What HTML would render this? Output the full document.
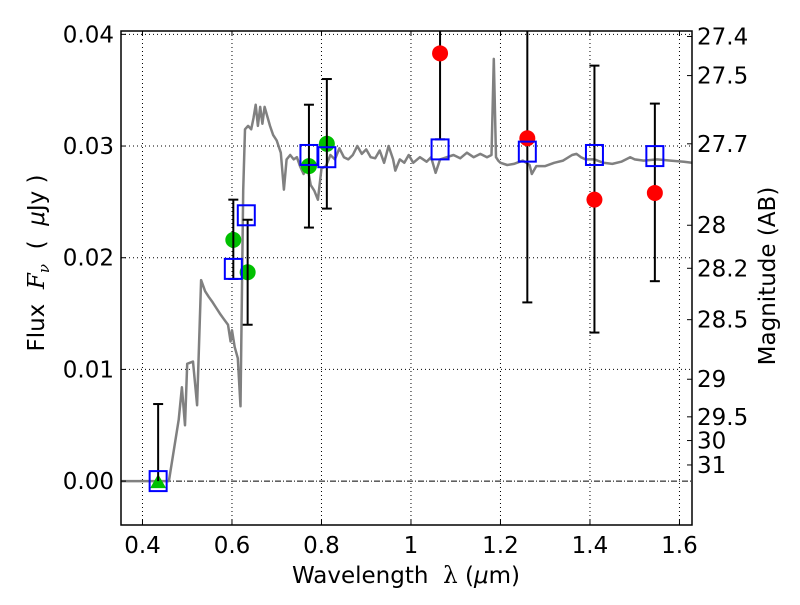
<!DOCTYPE html>
<html><head><meta charset="utf-8"><style>
body{margin:0;background:#fff}
svg text{font-family:"DejaVu Sans","Liberation Sans",sans-serif;fill:#000}
</style></head><body>
<svg id="chart" width="800" height="600" xmlns="http://www.w3.org/2000/svg"></svg>
<script>
const specLam=[0.352,0.459,0.481,0.488,0.495,0.5,0.513,0.522,0.531,0.54,0.548,0.557,0.565,0.573,0.582,0.591,0.597,0.6,0.606,0.613,0.619,0.625,0.629,0.636,0.643,0.648,0.653,0.658,0.663,0.668,0.673,0.68,0.685,0.692,0.7,0.709,0.716,0.722,0.73,0.738,0.745,0.752,0.76,0.768,0.776,0.784,0.792,0.8,0.81,0.82,0.83,0.84,0.85,0.86,0.87,0.88,0.89,0.9,0.91,0.92,0.93,0.94,0.95,0.96,0.965,0.975,0.985,0.995,1.005,1.02,1.035,1.045,1.055,1.065,1.08,1.095,1.11,1.125,1.14,1.155,1.17,1.18,1.185,1.19,1.195,1.2,1.215,1.23,1.25,1.265,1.27,1.28,1.3,1.32,1.34,1.36,1.37,1.38,1.39,1.41,1.43,1.45,1.47,1.49,1.5,1.52,1.55,1.58,1.61,1.628];
const specFlux=[0,0,0.0055,0.0084,0.005,0.0105,0.0107,0.0068,0.0180,0.0170,0.0165,0.0160,0.0155,0.0150,0.0145,0.0140,0.0125,0.0135,0.0120,0.0110,0.0067,0.0260,0.0315,0.0318,0.0315,0.0325,0.0337,0.0318,0.0335,0.0320,0.0335,0.0325,0.0318,0.0310,0.0305,0.0294,0.0261,0.0288,0.0292,0.0288,0.0290,0.0282,0.0275,0.0283,0.0265,0.0260,0.0252,0.0280,0.0282,0.0292,0.0288,0.0298,0.0290,0.0288,0.0292,0.0300,0.0293,0.0297,0.0290,0.0289,0.0296,0.0285,0.0300,0.0288,0.0278,0.0288,0.0285,0.0292,0.0285,0.0290,0.0286,0.0290,0.0276,0.0288,0.0290,0.0292,0.0289,0.0294,0.0290,0.0293,0.0290,0.0292,0.0378,0.0290,0.0287,0.0285,0.0283,0.0284,0.0287,0.0283,0.0275,0.0282,0.0282,0.0285,0.0287,0.0292,0.0293,0.0290,0.0288,0.0288,0.0285,0.0284,0.0286,0.0290,0.0288,0.0287,0.0288,0.0287,0.0286,0.0285];
const modelLam=[0.435,0.603,0.632,0.772,0.812,1.065,1.26,1.41,1.545];
const modelFlux=[0.0,0.019,0.0238,0.0292,0.029,0.0297,0.0295,0.0292,0.0291];
const greenLam=[0.603,0.635,0.772,0.812];
const greenFlux=[0.0216,0.0187,0.0282,0.0302];
const redLam=[1.065,1.26,1.41,1.545];
const redFlux=[0.0383,0.0307,0.0252,0.0258];
const errLam=[0.435,0.603,0.635,0.772,0.812,1.065,1.26,1.41,1.545];
const errLo=[0.0,0.0181,0.014,0.0227,0.0244,0.0306,0.016,0.0133,0.0179];
const errHi=[0.0069,0.0252,0.0234,0.0337,0.036,0.046,0.046,0.0372,0.0338];
const xTicks=[0.4,0.6,0.8,1.0,1.2,1.4,1.6];
const xTickLabels=["0.4","0.6","0.8","1","1.2","1.4","1.6"];
const yTicks=[0,0.01,0.02,0.03,0.04];
const yTickLabels=["0.00","0.01","0.02","0.03","0.04"];
const magTicks=[27.4,27.5,27.7,28,28.2,28.5,29,29.5,30,31];
const magTickLabels=["27.4","27.5","27.7","28","28.2","28.5","29","29.5","30","31"];

const L=121,R=692,T=31,B=525;
const X0=0.352,X1=1.628,Y0=-0.00393,Y1=0.0403;
const sx=v=>L+(v-X0)/(X1-X0)*(R-L);
const sy=v=>B-(v-Y0)/(Y1-Y0)*(B-T);
const NS="http://www.w3.org/2000/svg";
const svg=document.getElementById('chart');
function mk(tag,attrs,parent){const e=document.createElementNS(NS,tag);for(const k in attrs)e.setAttribute(k,attrs[k]);(parent||svg).appendChild(e);return e;}
const defs=mk('defs',{});const cp=mk('clipPath',{id:'cp'},defs);mk('rect',{x:L,y:T,width:R-L,height:B-T},cp);
const plot=mk('g',{'clip-path':'url(#cp)'});


xTicks.forEach(v=>{const g=mk('line',{x1:sx(v),x2:sx(v),y1:T,y2:B,stroke:'#000','stroke-width':1,'stroke-dasharray':'1,3'},plot);

});
yTicks.forEach(v=>{if(v===0)return;const g=mk('line',{x1:L,x2:R,y1:sy(v),y2:sy(v),stroke:'#000','stroke-width':1,'stroke-dasharray':'1,3'},plot);

});
const zl=mk('line',{x1:L,x2:R,y1:sy(0),y2:sy(0),stroke:'#000','stroke-width':1,'stroke-dasharray':'6,2,1,2'},plot);


let d='';specLam.forEach((l,i)=>{d+=(i?'L':'M')+sx(l).toFixed(1)+','+sy(specFlux[i]).toFixed(1);});
const sp=mk('path',{d:d,fill:'none',stroke:'#808080','stroke-width':2.5,'stroke-linejoin':'round'},plot);


greenLam.forEach((l,i)=>{const c=mk('circle',{cx:sx(l),cy:sy(greenFlux[i]),r:8,fill:'#00c000'},plot);

});
const tri=mk('polygon',{points:`${sx(0.435)-8},${sy(0)+7} ${sx(0.435)+8},${sy(0)+7} ${sx(0.435)},${sy(0)-7}`,fill:'#00c000'},plot);


errLam.forEach((l,i)=>{const x=sx(l);const g=mk('g',{stroke:'#000','stroke-width':2},plot);


mk('line',{x1:x,x2:x,y1:sy(errLo[i]),y2:sy(errHi[i])},g);
mk('line',{x1:x-5,x2:x+5,y1:sy(errHi[i]),y2:sy(errHi[i])},g);
if(errLo[i]>0)mk('line',{x1:x-5,x2:x+5,y1:sy(errLo[i]),y2:sy(errLo[i])},g);});
redLam.forEach((l,i)=>{const c=mk('circle',{cx:sx(l),cy:sy(redFlux[i]),r:8,fill:'#ff0000'},plot);

});
modelLam.forEach((l,i)=>{const s=mk('rect',{x:sx(l)-8.5,y:sy(modelFlux[i])-10,width:17,height:20,fill:'none',stroke:'#0000ff','stroke-width':2},plot);

});
const fr=mk('rect',{x:L,y:T,width:R-L,height:B-T,fill:'none',stroke:'#000','stroke-width':1.5});


const TS={'font-size':23};
xTicks.forEach((v,i)=>{const x=sx(v);mk('line',{x1:x,x2:x,y1:B,y2:B-5,stroke:'#000'});mk('line',{x1:x,x2:x,y1:T,y2:T+5,stroke:'#000'});
const t=mk('text',Object.assign({x:x,y:B+28,'text-anchor':'middle'},TS));t.textContent=xTickLabels[i];

});
yTicks.forEach((v,i)=>{const y=sy(v);mk('line',{x1:L,x2:L+5,y1:y,y2:y,stroke:'#000'});
const t=mk('text',Object.assign({x:L-7,y:y+8,'text-anchor':'end'},TS));t.textContent=yTickLabels[i];

});
magTicks.forEach((m,i)=>{const y=sy(Math.pow(10,-0.4*(m-23.9)));mk('line',{x1:R,x2:R-5,y1:y,y2:y,stroke:'#000'});
const t=mk('text',Object.assign({x:R+5,y:y+8},TS));t.textContent=magTickLabels[i];

});
</script>
<svg style="position:absolute;left:0;top:0" width="800" height="600" xmlns="http://www.w3.org/2000/svg">
<text x="406" y="583" font-size="23" text-anchor="middle" xml:space="preserve" style="white-space:pre">Wavelength  <tspan font-family="DejaVu Serif, serif">λ</tspan> (<tspan font-style="italic">μ</tspan>m)</text>
<text transform="translate(44,263) rotate(-90)" font-size="23" text-anchor="middle" xml:space="preserve" style="white-space:pre">Flux  <tspan font-family="DejaVu Serif, serif" font-style="italic">F</tspan><tspan font-family="DejaVu Serif, serif" font-style="italic" font-size="15" dy="5">ν</tspan><tspan dy="-5">  (  </tspan><tspan font-style="italic">μ</tspan>Jy )</text>
<text transform="translate(775,276) rotate(-90)" font-size="23" text-anchor="middle">Magnitude (AB)</text>
</svg>
</body></html>
